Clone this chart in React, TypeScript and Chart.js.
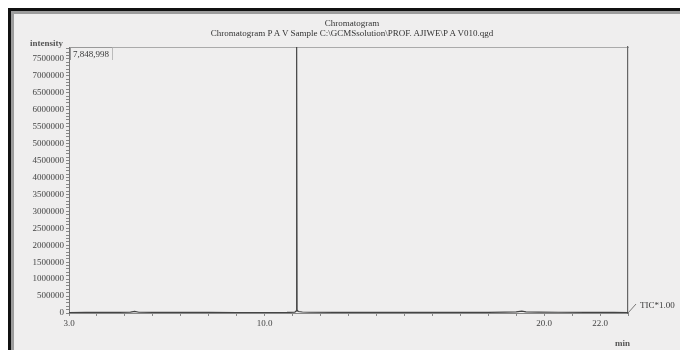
import { useEffect, useRef } from 'react';
import { Chart, registerables } from 'chart.js';

Chart.register(...registerables);

const titleLines = [
  'Chromatogram',
  'Chromatogram P A V Sample C:\\GCMSsolution\\PROF. AJIWE\\P A V010.qgd',
];

const retentionTimes = [
  3.0, 3.6, 4.2, 4.8, 5.2, 5.35, 5.5, 6.0, 7.0, 8.0, 9.0, 10.0, 10.8, 11.08, 11.13,
  11.145, 11.16, 11.2, 11.35, 11.6, 12.5, 14.0, 15.5, 17.0, 18.0, 18.6, 19.0, 19.2,
  19.35, 19.8, 20.5, 21.5, 22.5, 23.0,
];

const intensities = [
  15000, 17000, 18000, 20000, 24000, 45000, 22000, 19000, 17000, 16000, 15000, 15000,
  16000, 22000, 60000, 7848998, 90000, 45000, 30000, 22000, 19000, 17000, 16000,
  16000, 20000, 26000, 34000, 55000, 32000, 26000, 22000, 19000, 17000, 15000,
];

const xTickLabels = [3.0, 10.0, 20.0, 22.0];
const xMinorStep = 1;
const yLabelStep = 500000;
const yMinorStep = 100000;
const maxIntensityLabel = '7,848,998';
const yAxisName = 'intensity';
const xAxisName = 'min';
const traceName = 'TIC*1.00';

const FONT = '"Liberation Serif", "DejaVu Serif", serif';

export default function App() {
  const canvasRef = useRef<HTMLCanvasElement | null>(null);

  useEffect(() => {
    if (!canvasRef.current) return;
    const leader = {
      id: 'leader',
      afterDraw(chart: any) {
        const { ctx, chartArea } = chart;
        ctx.save();
        ctx.strokeStyle = '#777';
        ctx.lineWidth = 1;
        ctx.beginPath();
        ctx.moveTo(chartArea.right, chartArea.bottom);
        ctx.lineTo(chartArea.right + 8, chartArea.bottom - 9);
        ctx.stroke();
        ctx.restore();
      },
    };
    const chart = new Chart(canvasRef.current, {
      type: 'line',
      data: {
        datasets: [
          {
            label: traceName,
            data: retentionTimes.map((t, i) => ({ x: t, y: intensities[i] })),
            borderColor: '#444',
            borderWidth: 1.2,
            pointRadius: 0,
            tension: 0,
            fill: false,
          },
        ],
      },
      options: {
        animation: false,
        responsive: false,
        maintainAspectRatio: false,
        layout: { padding: { left: 8, right: 52, top: 47, bottom: 0 } },
        plugins: {
          legend: { display: false },
          tooltip: { enabled: false },
          title: { display: false },
        },
        scales: {
          x: {
            type: 'linear',
            position: 'bottom',
            min: 3,
            max: 23,
            afterBuildTicks: (scale: any) => {
              const ticks = [];
              for (let v = 3; v <= 23 + 1e-9; v += xMinorStep) ticks.push({ value: v });
              scale.ticks = ticks;
            },
            afterFit: (scale: any) => {
              scale.height = 37;
            },
            grid: { drawOnChartArea: false, drawTicks: true, tickLength: 3, color: '#888' },
            border: { display: true, color: '#888', width: 1 },
            ticks: {
              autoSkip: false,
              maxRotation: 0,
              padding: 2,
              color: '#444',
              font: { family: FONT, size: 9 },
              callback: (v: any) => (xTickLabels.includes(Number(v)) ? Number(v).toFixed(1) : ''),
            },
          },
          xTop: {
            type: 'linear',
            position: 'top',
            min: 3,
            max: 23,
            afterFit: (scale: any) => {
              scale.height = 0;
            },
            grid: { display: false, drawTicks: false },
            border: { display: true, color: '#aaa', width: 1, dash: [4, 3] },
            ticks: { display: false },
          },
          y: {
            type: 'linear',
            position: 'left',
            min: 0,
            max: 7850000,
            afterBuildTicks: (scale: any) => {
              const ticks = [];
              for (let v = 0; v <= 7850000; v += yMinorStep) ticks.push({ value: v });
              scale.ticks = ticks;
            },
            afterFit: (scale: any) => {
              scale.width = 61;
            },
            grid: { drawOnChartArea: false, drawTicks: true, tickLength: 3, color: '#888' },
            border: { display: true, color: '#777', width: 1 },
            ticks: {
              autoSkip: false,
              padding: 2,
              color: '#444',
              font: { family: FONT, size: 9 },
              callback: (v: any) => (Number(v) % yLabelStep === 0 ? String(v) : ''),
            },
          },
          yRight: {
            type: 'linear',
            position: 'right',
            min: 0,
            max: 7850000,
            afterFit: (scale: any) => {
              scale.width = 0;
            },
            grid: { display: false, drawTicks: false },
            border: { display: true, color: '#666', width: 1.2 },
            ticks: { display: false },
          },
        },
      },
      plugins: [leader],
    } as any);
    return () => chart.destroy();
  }, []);

  const label = (text: string, style: any) => (
    <div
      style={{
        position: 'absolute',
        fontFamily: FONT,
        fontSize: 9,
        color: '#3a3a3a',
        whiteSpace: 'nowrap',
        lineHeight: '10px',
        ...style,
      }}
    >
      {text}
    </div>
  );

  return (
    <div
      style={{
        position: 'fixed',
        left: 0,
        top: 0,
        width: 680,
        height: 350,
        background: '#ffffff',
        overflow: 'hidden',
      }}
    >
      <div
        style={{
          position: 'absolute',
          left: 8,
          top: 8,
          width: 680,
          height: 350,
          borderTop: '3px solid #111',
          borderLeft: '3px solid #111',
          boxSizing: 'border-box',
        }}
      >
        <div
          style={{
            position: 'absolute',
            left: 0,
            top: 0,
            right: 0,
            bottom: 0,
            borderTop: '3px solid #9c9c9c',
            borderLeft: '3px solid #9c9c9c',
            background: '#efeeee',
          }}
        />
      </div>
      <canvas
        ref={canvasRef}
        width={680}
        height={350}
        style={{ position: 'absolute', left: 0, top: 0, width: 680, height: 350 }}
      />
      <div
        style={{
          position: 'absolute',
          left: 152,
          width: 400,
          top: 19,
          textAlign: 'center',
          fontFamily: FONT,
          fontSize: 9,
          lineHeight: '9.5px',
          color: '#333',
        }}
      >
        <div>{titleLines[0]}</div>
        <div>{titleLines[1]}</div>
      </div>
      {label(yAxisName, { left: 30, top: 38, fontWeight: 'bold', color: '#555' })}
      <div
        style={{
          position: 'absolute',
          left: 70,
          top: 47,
          padding: '1px 3px 1px 2px',
          borderLeft: '1px solid #999',
          borderTop: '1px solid #999',
          borderRight: '1px solid #bbb',
          fontFamily: FONT,
          fontSize: 9,
          lineHeight: '10px',
          color: '#3a3a3a',
        }}
      >
        {maxIntensityLabel}
      </div>
      {label(traceName, { left: 640, top: 300 })}
      {label(xAxisName, { left: 615, top: 338, fontWeight: 'bold', color: '#555' })}
    </div>
  );
}
